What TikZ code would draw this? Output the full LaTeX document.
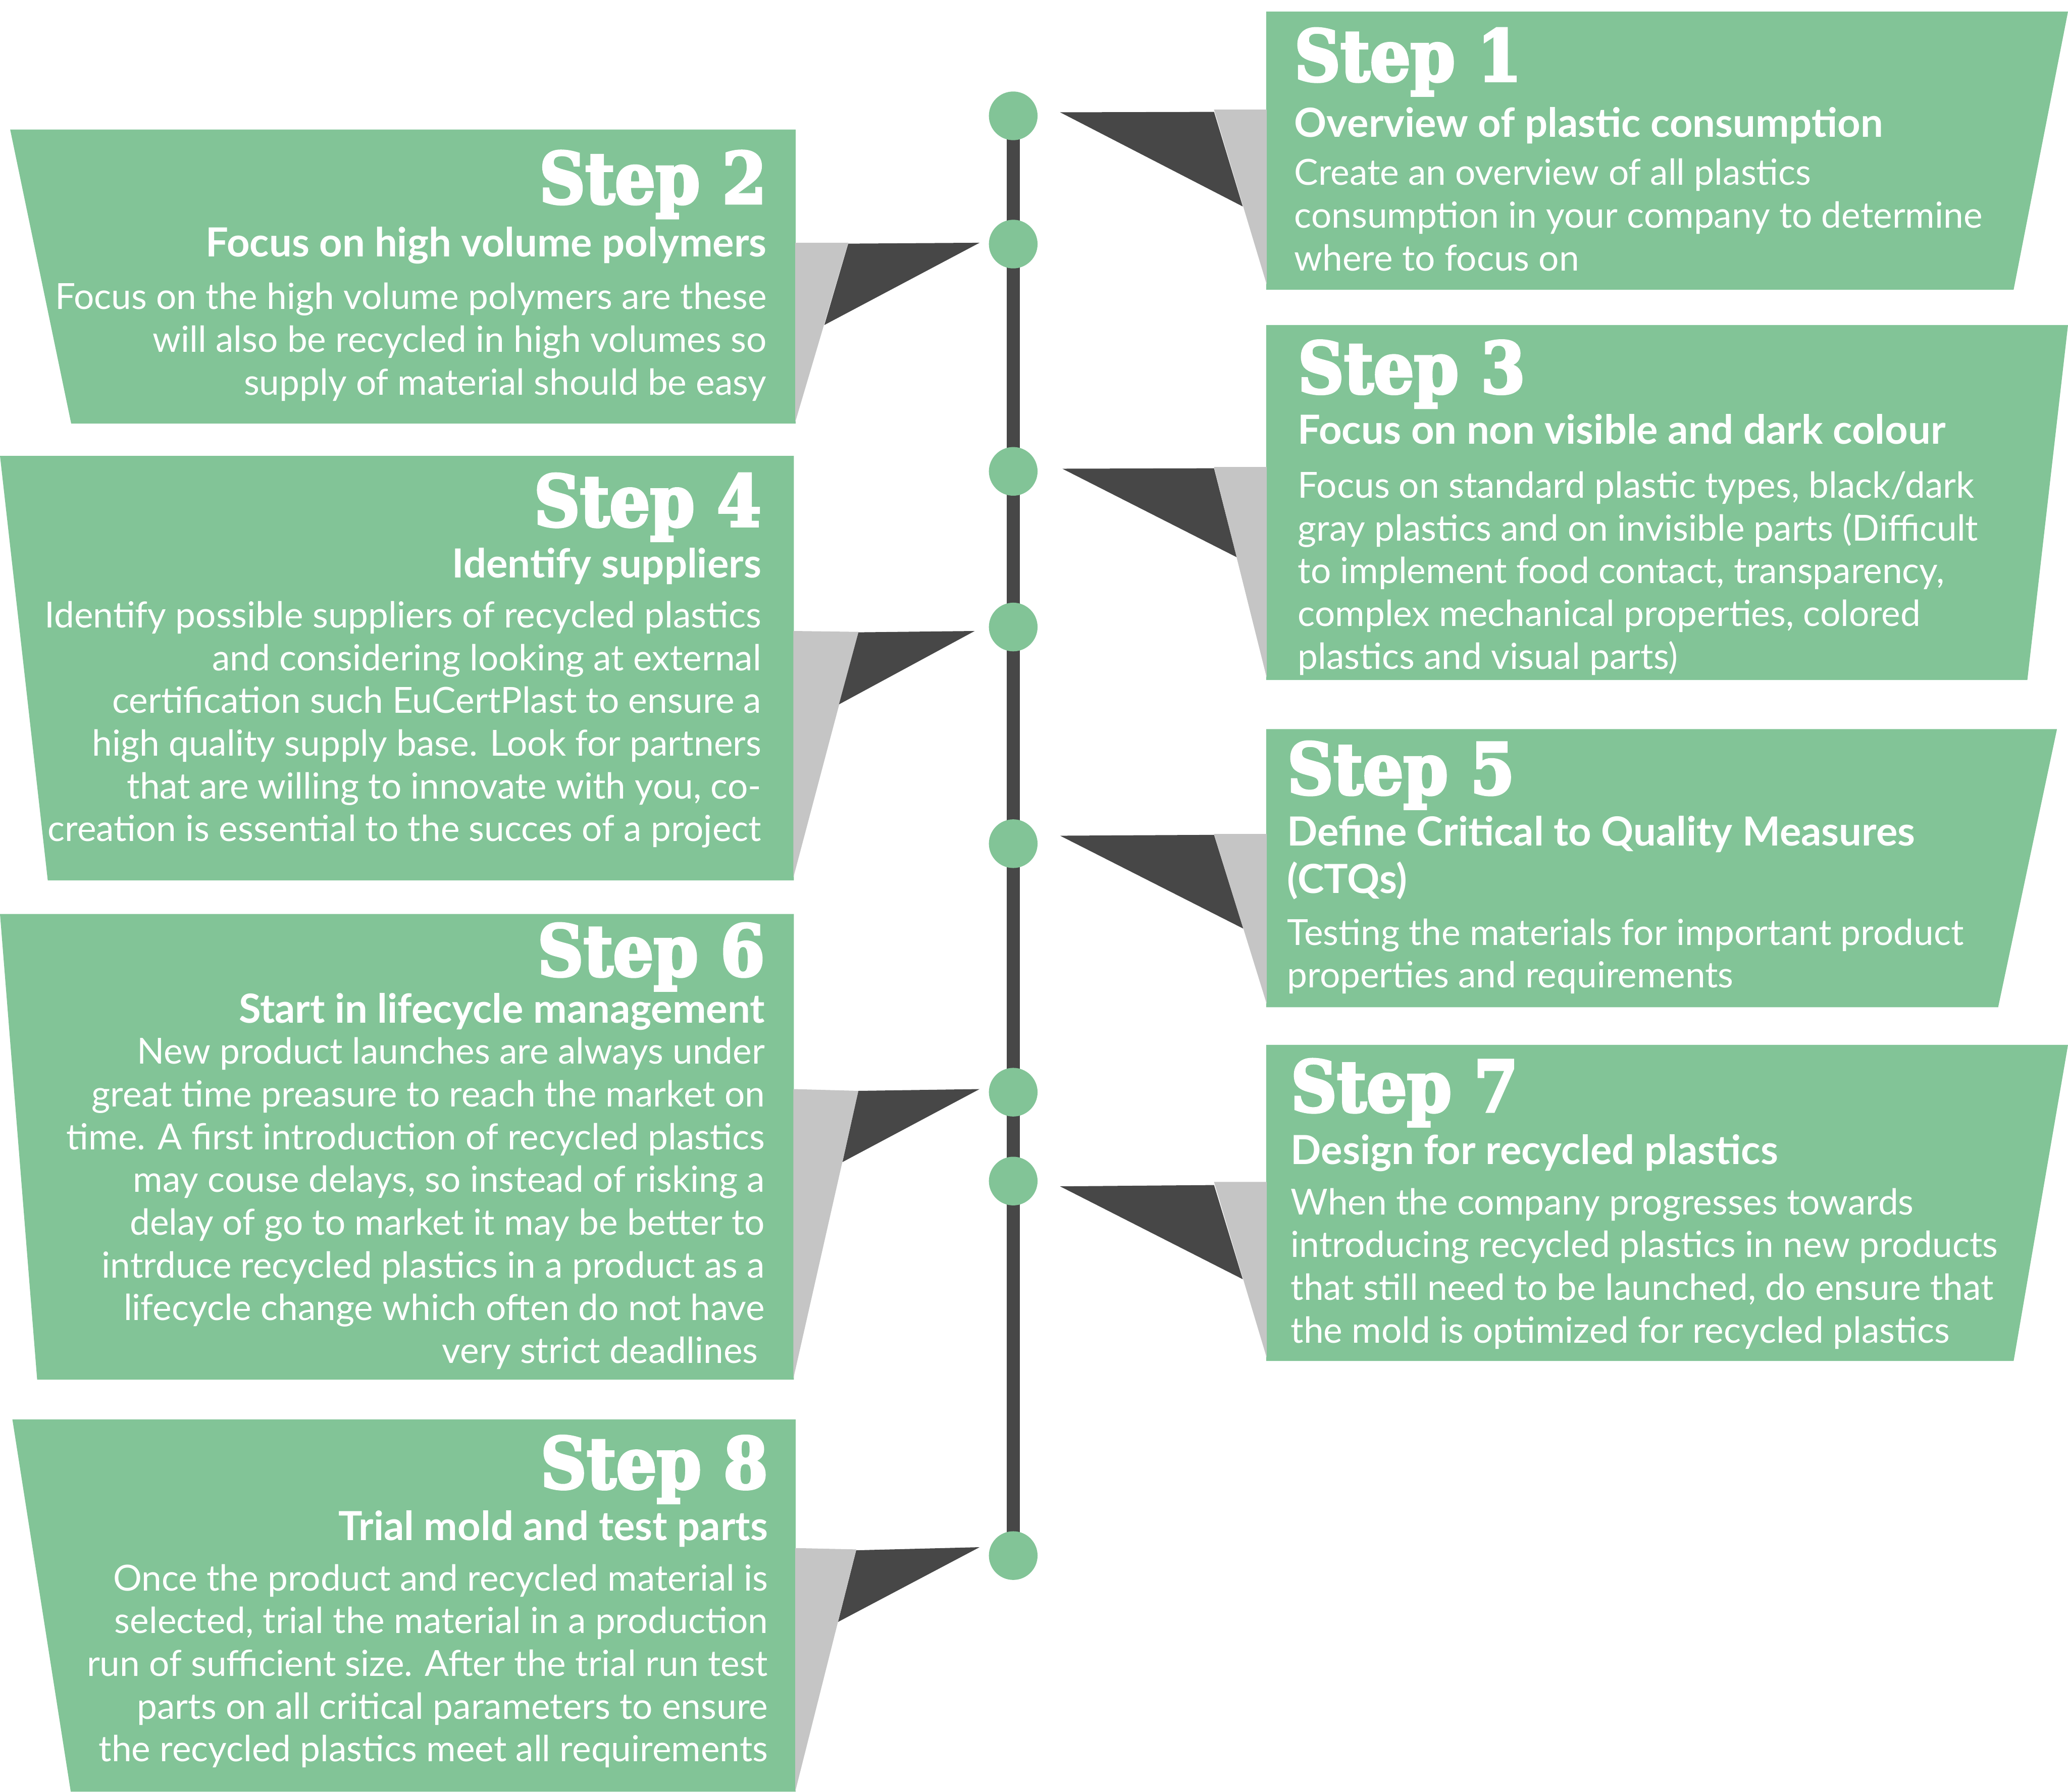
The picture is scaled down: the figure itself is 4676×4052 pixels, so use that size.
\documentclass[tikz,border=0pt]{standalone}
\usepackage{fontspec}
\setmainfont{Lato}
\newfontfamily\stepfont{DejaVu Serif Condensed}[FakeBold=3.5]
\usetikzlibrary{backgrounds}
\definecolor{stepgreen}{HTML}{82C497}
\definecolor{flapdark}{HTML}{474747}
\definecolor{flaplight}{HTML}{C5C5C5}
\definecolor{linedark}{HTML}{474747}
\begin{document}
\begin{tikzpicture}[x=0.01cm,y=-0.01cm,
  box/.style={fill=stepgreen},
  foldlight/.style={fill=flaplight},
  folddark/.style={fill=flapdark},
  dot/.style={circle,fill=stepgreen,inner sep=0pt,minimum size=1.1cm},
  stephead/.style={text=white,inner sep=0pt,font=\stepfont\bfseries\fontsize{45.6}{50}\selectfont},
  steptitle/.style={text=white,inner sep=0pt,font=\bfseries\fontsize{25.8}{30.4}\selectfont},
  stepbody/.style={text=white,inner sep=0pt,font=\fontsize{23.1}{27.5}\selectfont},
]
\useasboundingbox (0,0) rectangle (4676,4052);

% ---------- boxes ----------
\fill[box] (2863,26) -- (4676,26) -- (4553,655) -- (2863,655) -- cycle;
\fill[box] (2863,735) -- (4676,735) -- (4584,1538) -- (2863,1538) -- cycle;
\fill[box] (2863,1649) -- (4651,1649) -- (4518,2278) -- (2863,2278) -- cycle;
\fill[box] (2863,2363) -- (4676,2363) -- (4553,3078) -- (2863,3078) -- cycle;
\fill[box] (23,293) -- (1799,293) -- (1799,958) -- (161,958) -- cycle;
\fill[box] (0,1031) -- (1795,1031) -- (1795,1991) -- (108,1991) -- cycle;
\fill[box] (0,2067) -- (1795,2067) -- (1795,3120) -- (84,3120) -- cycle;
\fill[box] (28,3210) -- (1799,3210) -- (1799,4052) -- (160,4052) -- cycle;

% ---------- folds (right) ----------
\fill[foldlight] (2745,248) -- (2864,248) -- (2864,643) -- cycle;
\fill[folddark] (2397,254) -- (2745,253) -- (2810,467) -- cycle;
\fill[foldlight] (2745,1056) -- (2864,1056) -- (2864,1532) -- cycle;
\fill[folddark] (2402,1060) -- (2745,1059) -- (2796,1260) -- cycle;
\fill[foldlight] (2745,1886) -- (2864,1886) -- (2864,2270) -- cycle;
\fill[folddark] (2397,1890) -- (2745,1888) -- (2811,2100) -- cycle;
\fill[foldlight] (2745,2673) -- (2864,2673) -- (2864,3070) -- cycle;
\fill[folddark] (2397,2683) -- (2745,2680) -- (2810,2893) -- cycle;

% ---------- folds (left) ----------
\fill[foldlight] (1798,549) -- (1918,549) -- (1798,955) -- cycle;
\fill[folddark] (1918,551) -- (2215,549) -- (1864,735) -- cycle;
\fill[foldlight] (1794,1427) -- (1941,1429) -- (1794,1984) -- cycle;
\fill[folddark] (1941,1430) -- (2204,1427) -- (1897,1593) -- cycle;
\fill[foldlight] (1794,2463) -- (1941,2467) -- (1794,3117) -- cycle;
\fill[folddark] (1941,2467) -- (2215,2463) -- (1905,2628) -- cycle;
\fill[foldlight] (1798,3501) -- (1936,3504) -- (1798,4052) -- cycle;
\fill[folddark] (1936,3506) -- (2215,3499) -- (1895,3668) -- cycle;

% ---------- timeline ----------
\node[dot] (d1) at (2291,262) {};
\node[dot] (d2) at (2291,552) {};
\node[dot] (d3) at (2291,1066) {};
\node[dot] (d4) at (2291,1418) {};
\node[dot] (d5) at (2291,1908) {};
\node[dot] (d6) at (2291,2470) {};
\node[dot] (d7) at (2291,2671) {};
\node[dot] (d8) at (2291,3518) {};
\begin{pgfonlayer}{background}
\draw[line width=0.3cm, linedark] (d1.center) -- (d8.center);
\end{pgfonlayer}

% multi-line nodes: anchor "base" is the baseline of the LAST line

% ---------- Step 1 ----------
\node[stephead, anchor=base west] (h1) at (2926,183) {Step 1};
\node[steptitle, anchor=base west] (t1) at (2926,310) {Overview of plastic consumption};
\node[stepbody, anchor=base west, align=left] (b1) at (2926,612)
  {Create an overview of all plastics\\consumption in your company to determine\\where to focus on};

% ---------- Step 2 ----------
\node[stephead, anchor=base east] (h2) at (1734,460) {Step 2};
\node[steptitle, anchor=base east] (t2) at (1734,580) {Focus on high volume polymers};
\node[stepbody, anchor=base east, align=right] (b2) at (1734,893)
  {Focus on the high volume polymers are these\\will also be recycled in high volumes so\\supply of material should be easy};

% ---------- Step 3 ----------
\node[stephead, anchor=base west] (h3) at (2934,889) {Step 3};
\node[steptitle, anchor=base west] (t3) at (2934,1004) {Focus on non visible and dark colour};
\node[stepbody, anchor=base west, align=left] (b3) at (2934,1513)
  {Focus on standard plastic types, black/dark\\gray plastics and on invisible parts (Difficult\\to implement food contact, transparency,\\complex mechanical properties, colored\\plastics and visual parts)};

% ---------- Step 4 ----------
\node[stephead, anchor=base east] (h4) at (1722,1190) {Step 4};
\node[steptitle, anchor=base east] (t4) at (1722,1307) {Identify suppliers};
\node[stepbody, anchor=base east, align=right] (b4) at (1722,1903)
  {Identify possible suppliers of recycled plastics\\and considering looking at external\\certification such EuCertPlast to ensure a\\high quality supply base. Look for partners\\that are willing to innovate with you, co-\\creation is essential to the succes of a project};

% ---------- Step 5 ----------
\node[stephead, anchor=base west] (h5) at (2910,1796) {Step 5};
\node[steptitle, anchor=base west, align=left] (t5) at (2910,2020)
  {Define Critical to Quality Measures\\(CTQs)};
\node[stepbody, anchor=base west, align=left] (b5) at (2910,2234)
  {Testing the materials for important product\\properties and requirements};

% ---------- Step 6 ----------
\node[stephead, anchor=base east] (h6) at (1730,2207) {Step 6};
\node[steptitle, anchor=base east] (t6) at (1730,2314) {Start in lifecycle management};
\node[stepbody, anchor=base east, align=right] (b6) at (1730,3083)
  {New product launches are always under\\great time preasure to reach the market on\\time. A first introduction of recycled plastics\\may couse delays, so instead of risking a\\delay of go to market it may be better to\\intrduce recycled plastics in a product as a\\lifecycle change which often do not have\\very strict deadlines\hspace*{0.15cm}};

% ---------- Step 7 ----------
\node[stephead, anchor=base west] (h7) at (2918,2514) {Step 7};
\node[steptitle, anchor=base west] (t7) at (2918,2633) {Design for recycled plastics};
\node[stepbody, anchor=base west, align=left] (b7) at (2918,3037)
  {When the company progresses towards\\introducing recycled plastics in new products\\that still need to be launched, do ensure that\\the mold is optimized for recycled plastics};

% ---------- Step 8 ----------
\node[stephead, anchor=base east] (h8) at (1737,3366) {Step 8};
\node[steptitle, anchor=base east] (t8) at (1737,3484) {Trial mold and test parts};
\node[stepbody, anchor=base east, align=right] (b8) at (1737,3984)
  {Once the product and recycled material is\\selected, trial the material in a production\\run of sufficient size. After the trial run test\\parts on all critical parameters to ensure\\the recycled plastics meet all requirements};
\end{tikzpicture}
\end{document}
